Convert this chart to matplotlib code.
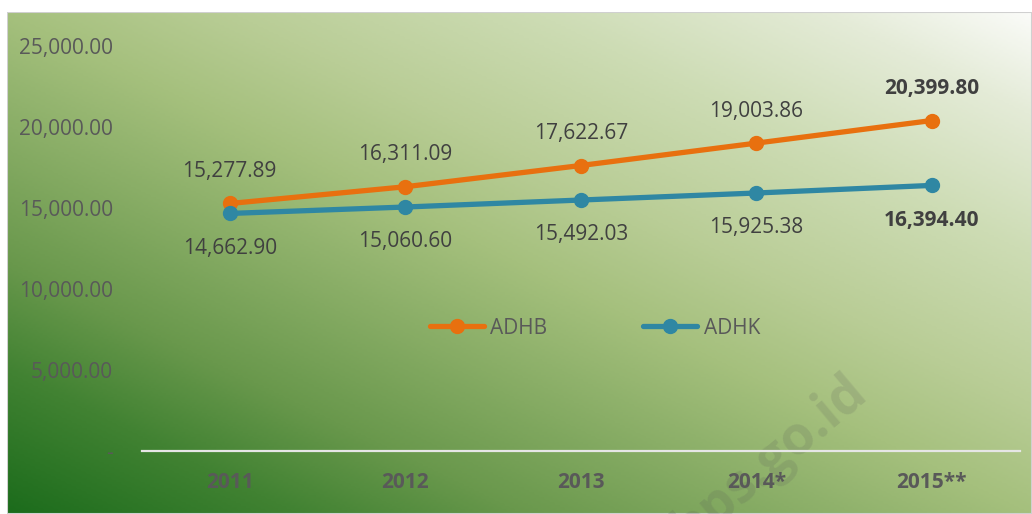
import numpy as np
import matplotlib.pyplot as plt
from matplotlib.colors import LinearSegmentedColormap
from matplotlib.patches import Rectangle
from matplotlib.ticker import FuncFormatter

# data
years = ['2011', '2012', '2013', '2014*', '2015**']
adhb = [15277.89, 16311.09, 17622.67, 19003.86, 20399.80]
adhk = [14662.90, 15060.60, 15492.03, 15925.38, 16394.40]
yticks = [0, 5000, 10000, 15000, 20000, 25000]

orange = '#E8700F'
blue = '#2F87A3'
txt = '#595959'
dark = '#404040'

plt.rcParams['font.family'] = ['Open Sans', 'DejaVu Sans']

W, H = 1032, 514
fig = plt.figure(figsize=(W / 100, H / 100), dpi=100)
fig.patch.set_facecolor('white')

# gradient background (diagonal, dark bottom-left -> light top-right)
bg = fig.add_axes([7 / W, 0, (W - 7) / W, (H - 12) / H], zorder=0)
gx, gy = np.meshgrid(np.linspace(0, 1, 400), np.linspace(0, 1, 200))
t = (gx + (1 - gy)) / 2
stops = [(0.0, (28, 108, 28)), (0.14, (65, 130, 50)), (0.25, (105, 152, 76)),
         (0.5, (165, 192, 125)), (0.61, (185, 205, 150)), (0.76, (205, 220, 180)),
         (0.9, (228, 235, 215)), (1.0, (250, 251, 248))]
cmap = LinearSegmentedColormap.from_list('g', [(p, tuple(c / 255 for c in rgb)) for p, rgb in stops])
bg.imshow(t, cmap=cmap, aspect='auto', extent=[0, 1, 0, 1], origin='upper',
          vmin=0, vmax=1, interpolation='bilinear')
bg.add_patch(Rectangle((0, 0), 1, 1, transform=bg.transAxes, fill=False,
                       edgecolor='#d0d0d0', linewidth=1.5))
bg.set_axis_off()

# watermark
fig.text(770 / W, (H - 460) / H, 'bps.go.id', rotation=40, fontsize=38,
         fontweight='bold', color='#555555', alpha=0.17, ha='center',
         va='center', zorder=1)

ax = fig.add_axes([142 / W, (H - 451) / H, (1019.5 - 142) / W, 405 / H], zorder=2)
ax.patch.set_alpha(0)
x = np.arange(len(years))

ax.plot(x, adhb, color=orange, lw=3.8, marker='o', ms=10, label='ADHB',
        solid_capstyle='round')
ax.plot(x, adhk, color=blue, lw=3.8, marker='o', ms=10, label='ADHK',
        solid_capstyle='round')

for i in range(len(years)):
    bold = i == len(years) - 1
    kw = dict(ha='center', va='center', textcoords='offset points', fontsize=15,
              color=dark, fontweight='bold' if bold else 'normal')
    ax.annotate(f'{adhb[i]:,.2f}', (x[i], adhb[i]), xytext=(0, 23), **kw)
    ax.annotate(f'{adhk[i]:,.2f}', (x[i], adhk[i]), xytext=(0, -25), **kw)

ax.set_xlim(-0.5, 4.5)
ax.set_ylim(0, 25000)
ax.set_yticks(yticks)
ax.yaxis.set_major_formatter(FuncFormatter(lambda v, p: '-' if v == 0 else f'{v:,.2f}'))
ax.set_xticks(x)
ax.set_xticklabels(years, fontweight='bold')
ax.tick_params(axis='both', length=0, labelsize=15, colors=txt)
ax.tick_params(axis='y', pad=21)
ax.tick_params(axis='x', pad=15)
for s in ['top', 'right', 'left']:
    ax.spines[s].set_visible(False)
ax.spines['bottom'].set_color('#e6e6e6')
ax.spines['bottom'].set_linewidth(1.6)

leg = ax.legend(loc='center', bbox_to_anchor=(595 / W, (H - 328) / H),
                bbox_transform=fig.transFigure, ncol=2, frameon=False,
                fontsize=15, handlelength=2.6, columnspacing=4.6,
                handletextpad=0.3)
for tx in leg.get_texts():
    tx.set_color(txt)

fig.savefig('out.png', dpi=100)
